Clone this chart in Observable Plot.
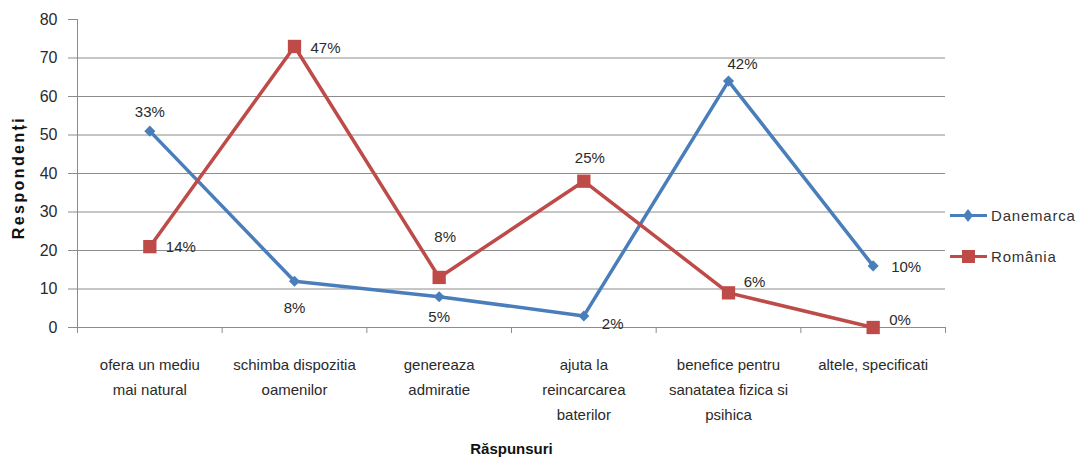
<!DOCTYPE html>
<html>
<head>
<meta charset="utf-8">
<script src="https://cdn.jsdelivr.net/npm/d3@7"></script>
<script src="https://cdn.jsdelivr.net/npm/@observablehq/plot@0.6"></script>
<style>
  html, body { margin: 0; padding: 0; background: #fff; }
  #chart { position: relative; width: 1076px; height: 465px; overflow: hidden; }
  .ytitle text { letter-spacing: 2.4px; }
  .legend { position: absolute; left: 950px; top: 0; font: 15px "Liberation Sans", sans-serif; letter-spacing: 0.8px; color: #333; }
  .legend .item { position: absolute; left: 0; display: flex; align-items: center; white-space: nowrap; }
  .legend svg { display: block; margin-right: 3px; }
</style>
</head>
<body>
<div id="chart"></div>
<script>
// Răspunsuri (answers) on the x axis
const categories = [
  "ofera un mediu\nmai natural",
  "schimba dispozitia\noamenilor",
  "genereaza\nadmiratie",
  "ajuta la\nreincarcarea\nbaterilor",
  "benefice pentru\nsanatatea fizica si\npsihica",
  "altele, specificati"
];
const seriesNames = ["Danemarca", "România"];
// number of respondents per answer
const danemarca = [51, 12, 8, 3, 64, 16];
const romania = [21, 73, 13, 38, 9, 0];
// share of respondents written next to each point
const danemarcaLabels = ["33%", "8%", "5%", "2%", "42%", "10%"];
const romaniaLabels = ["14%", "47%", "8%", "25%", "6%", "0%"];
const yTicks = [0, 10, 20, 30, 40, 50, 60, 70, 80];

const blue = "#4a7ebb";
const red = "#be4b48";
const grid = "#8c8c8c";
const font = "Liberation Sans, sans-serif";

const danRows = danemarca.map((v, i) => ({i, value: v, label: danemarcaLabels[i]}));
const roRows = romania.map((v, i) => ({i, value: v, label: romaniaLabels[i]}));

// label placement around each point: [dx, dy, textAnchor]
const danPlace = [[0, -19, "middle"], [0, 27, "middle"], [0, 20, "middle"], [18, 8, "start"], [14, -17, "middle"], [18, 1, "start"]];
const roPlace = [[16, 1, "start"], [16, 2, "start"], [6, -40, "middle"], [6, -23, "middle"], [26, -11, "middle"], [16, -7, "start"]];

function pointLabels(rows, place) {
  return rows.map((r, k) => Plot.text([r], {
    x: "i", y: "value", text: "label",
    dx: place[k][0], dy: place[k][1], textAnchor: place[k][2],
    fontSize: 15, fill: "#2a2a2a"
  }));
}

const chart = Plot.plot({
  width: 1076,
  height: 465,
  marginLeft: 77,
  marginRight: 131,
  marginTop: 19,
  marginBottom: 138,
  x: {type: "linear", domain: [-0.5, categories.length - 0.5]},
  y: {domain: [0, 80]},
  style: {fontFamily: font, background: "#fff", overflow: "visible"},
  marks: [
    Plot.gridY(yTicks.filter(t => t > 0 && t < 80), {stroke: grid, strokeOpacity: 1}),
    Plot.axisY(yTicks, {tickSize: 9, tickPadding: 11, stroke: grid, fill: "#2a2a2a", fontSize: 16, label: null}),
    Plot.ruleX([-0.5], {stroke: grid}),
    Plot.ruleY([0], {stroke: grid}),
    // category boundary ticks
    Plot.axisX(d3.range(-0.5, categories.length, 1), {tickSize: 6, stroke: grid, tickFormat: () => "", label: null}),
    // category names
    Plot.axisX(d3.range(categories.length), {
      tickSize: 0, tickPadding: 25, tickFormat: i => categories[i],
      lineHeight: 1.65, fontSize: 15, fill: "#2a2a2a", label: null
    }),
    Plot.text(["Respondenți"], {frameAnchor: "left", dx: -59, dy: 4, rotate: -90, textAnchor: "middle", fontWeight: "bold", fontSize: 16, fill: "#111", className: "ytitle"}),
    Plot.text(["Răspunsuri"], {frameAnchor: "bottom", dy: 126, fontWeight: "bold", fontSize: 15, fill: "#111"}),
    Plot.line(danRows, {x: "i", y: "value", stroke: blue, strokeWidth: 3.5, strokeLinejoin: "round"}),
    Plot.line(roRows, {x: "i", y: "value", stroke: red, strokeWidth: 3.5, strokeLinejoin: "round"}),
    Plot.dot(danRows, {x: "i", y: "value", symbol: "diamond2", r: 5, fill: blue}),
    Plot.dot(roRows, {x: "i", y: "value", symbol: "square", r: 7.5, fill: red}),
    ...pointLabels(danRows, danPlace),
    ...pointLabels(roRows, roPlace)
  ]
});

const host = document.getElementById("chart");
host.appendChild(chart);

// legend on the right
const legend = document.createElement("div");
legend.className = "legend";
const legendItems = [
  {name: seriesNames[0], color: blue, marker: `<path d="M18,1 L23,7.5 L18,14 L13,7.5 Z" fill="${blue}"/>`, top: 207},
  {name: seriesNames[1], color: red, marker: `<rect x="12" y="1" width="13" height="13" fill="${red}"/>`, top: 248}
];
for (const it of legendItems) {
  const item = document.createElement("div");
  item.className = "item";
  item.style.top = it.top + "px";
  item.innerHTML = `<svg width="38" height="15"><line x1="0" x2="37" y1="7.5" y2="7.5" stroke="${it.color}" stroke-width="3"/>${it.marker}</svg><span>${it.name}</span>`;
  legend.appendChild(item);
}
host.appendChild(legend);
</script>
</body>
</html>
